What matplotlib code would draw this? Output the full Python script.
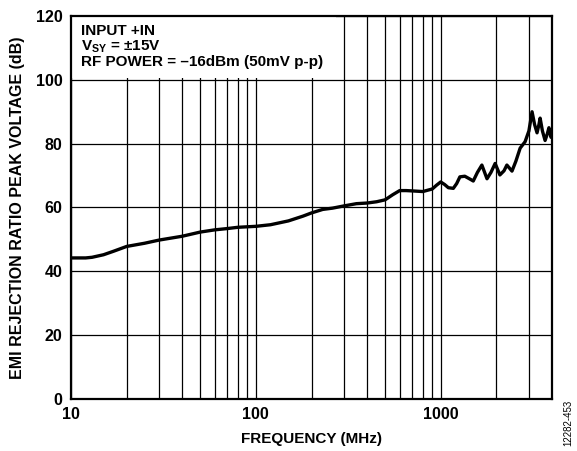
import matplotlib
matplotlib.use('Agg')
import matplotlib.pyplot as plt
from matplotlib.patches import Rectangle
from matplotlib.ticker import FixedLocator, NullFormatter

plt.rcParams['font.family'] = ['Liberation Sans', 'DejaVu Sans']
plt.rcParams['font.weight'] = 'bold'
plt.rcParams['mathtext.fontset'] = 'custom'
plt.rcParams['mathtext.rm'] = 'Liberation Sans:bold'
plt.rcParams['mathtext.it'] = 'Liberation Sans:bold'
plt.rcParams['mathtext.bf'] = 'Liberation Sans:bold'
plt.rcParams['mathtext.default'] = 'rm'

# frequency (MHz) and EMIRR (dB)
freq = [10, 12, 13, 15, 17, 20, 25, 30, 40, 50, 60, 70, 80, 100, 120,
        150, 180, 200, 230, 260, 300, 350, 400, 450, 500, 550, 600, 650, 700, 800,
        900, 950, 1000, 1050, 1100, 1170, 1220, 1270, 1350, 1450, 1500, 1580, 1670,
        1780, 1870, 1970, 2090, 2200, 2280, 2430, 2550, 2690, 2860, 3000, 3120,
        3220, 3320, 3400, 3450, 3550, 3670, 3770, 3850, 3950, 4000]
emirr = [44.2, 44.2, 44.4, 45.2, 46.3, 47.8, 48.8, 49.8, 51, 52.3, 53, 53.4, 53.8, 54.1, 54.6,
         55.8, 57.3, 58.3, 59.4, 59.8, 60.5, 61.2, 61.4, 61.8, 62.4, 64, 65.3, 65.3, 65.2, 65,
         65.8, 67, 68, 67.2, 66.2, 66, 67.5, 69.6, 69.8, 68.8, 68.3, 71, 73.3,
         69, 71, 73.8, 70.2, 71.5, 73.3, 71.4, 74.5, 78.6, 80.6, 84, 90,
         86, 83.4, 86, 88, 84, 81, 83, 85, 82, 82.7]

xticks = [10, 100, 1000]
yticks = [0, 20, 40, 60, 80, 100, 120]
minor_x = [m * d for d in (10, 100, 1000) for m in range(2, 10) if m * d < 4000]

fig = plt.figure(figsize=(5.77, 4.51), dpi=100)
ax = fig.add_axes([71 / 577, 1 - 399 / 451, 481 / 577, 383 / 451])

ax.set_xscale('log')
ax.set_xlim(10, 4000)
ax.set_ylim(0, 120)
ax.set_axisbelow(True)

ax.plot(freq, emirr, color='black', lw=2.4, zorder=3)

ax.xaxis.set_major_locator(FixedLocator(xticks))
ax.xaxis.set_minor_locator(FixedLocator(minor_x))
ax.xaxis.set_minor_formatter(NullFormatter())
ax.set_xticks(xticks)
ax.set_xticklabels([str(t) for t in xticks])
ax.set_yticks(yticks)
ax.grid(True, which='both', axis='x', color='black', lw=0.9)
ax.grid(True, which='major', axis='y', color='black', lw=0.9)
ax.tick_params(which='both', length=0, labelsize=11.5, pad=6)
for s in ax.spines.values():
    s.set_linewidth(1.6)

# white panel behind the annotation text
ax.add_patch(Rectangle((0, 100.6), 0.55, 19.4, transform=ax.get_yaxis_transform(),
                       facecolor='white', edgecolor='none', zorder=1))

ax.text(0.02, 0.98, 'INPUT +IN\nV$_{SY}$ = ±15V\nRF POWER = –16dBm (50mV p-p)',
        transform=ax.transAxes, ha='left', va='top', fontsize=11,
        fontweight='bold', linespacing=1.05, zorder=4)

ax.set_xlabel('FREQUENCY (MHz)', fontsize=11, fontweight='bold', labelpad=7)
ax.set_ylabel('EMI REJECTION RATIO PEAK VOLTAGE (dB)', fontsize=11.5, fontweight='bold', labelpad=8)

fig.text(0.985, 0.01, '12282-453', rotation=90, ha='center', va='bottom',
         fontsize=7, fontweight='normal')

fig.savefig('out.png', dpi=100)
